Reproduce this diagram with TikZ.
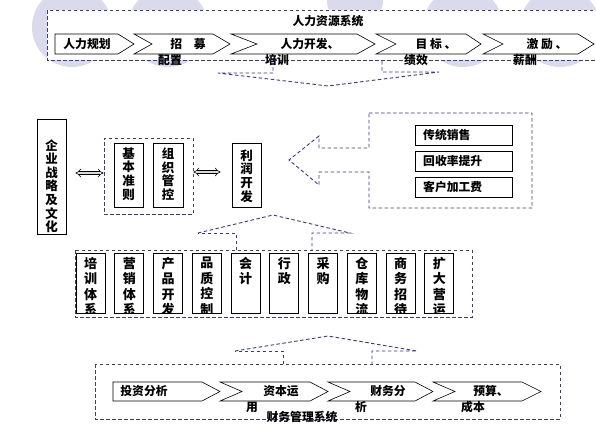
\documentclass[tikz,border=0pt]{standalone}
\usepackage{fontspec}
\setmainfont{Noto Sans CJK SC}
\usetikzlibrary{arrows.meta}
\definecolor{dblue}{RGB}{55,55,160}
\definecolor{lav}{RGB}{218,218,237}
\begin{document}
\begin{tikzpicture}[x=1pt,y=-1pt,
  bluedash/.style={draw=dblue, line width=0.9pt, dash pattern=on 3.5pt off 2.5pt},
  chev/.style={draw=black, fill=white, line width=0.6pt},
  lbl/.style={inner sep=0pt, font=\fontsize{11.8}{13}\selectfont\bfseries},
  plainbox/.style={draw=black, line width=0.7pt, fill=white, inner sep=0pt},
  vtxt/.style={inner sep=0pt, align=center, font=\fontsize{12.5}{13.8}\selectfont\bfseries},
  deptxt/.style={inner sep=0pt, align=center, anchor=north, font=\fontsize{13}{15.5}\selectfont\bfseries},
  harrow/.style={double=black!15, double distance=2.4pt, line width=0.6pt, {Implies[length=5pt]}-{Implies[length=5pt]}}
]
\useasboundingbox (0,0) rectangle (596,439);
\fill[white] (0,0) rectangle (596,439);
% background circles
\fill[lav] (72,27) circle (40);
\fill[lav] (168,27) circle (40);
\fill[lav] (355,0) circle (28);
\fill[lav] (463,27) circle (40);
\fill[lav] (560,27) circle (40);

% ---------------- HR system ----------------
\draw[bluedash, fill=white] (47,10) rectangle (600,60);
\node[lbl] (hrtitle) at (328,21) {人力资源系统};
\draw[chev] (55,34) -- (118,34) -- (134,44) -- (118,54) -- (55,54) -- cycle;
\draw[chev] (134,34) -- (213,34) -- (230,44) -- (213,54) -- (134,54) -- (152,44) -- cycle;
\draw[chev] (231,34) -- (357,34) -- (375,44) -- (357,54) -- (231,54) -- (257,44) -- cycle;
\draw[chev] (376,34) -- (466,34) -- (481,44) -- (466,54) -- (376,54) -- (396,44) -- cycle;
\draw[chev] (483,34) -- (578,34) -- (594,44) -- (578,54) -- (483,54) -- (503,44) -- cycle;
\node[lbl] (hr1) at (87,44) {人力规划};
\node[lbl] (hr2) at (188,44) {招　募};
\node[lbl] (hr2b) at (170,60) {配置};
\node[lbl] (hr3) at (310,44) {人力开发、};
\node[lbl] (hr3b) at (277,60) {培训};
\node[lbl] (hr4) at (436,44) {目 标 、};
\node[lbl] (hr4b) at (416,60) {绩效};
\node[lbl] (hr5) at (547,44) {激 励 、};
\node[lbl] (hr5b) at (525,60) {薪酬};
% down arrow under HR box
\draw[bluedash] (273,61) -- (273,73) -- (218,73) -- (328,86) -- (439,72) -- (382,72) -- (382,61);

% ---------------- middle ----------------
\node[plainbox, minimum width=29pt, minimum height=115pt] (qiye) at (51.5,176.5) {};
\node[vtxt, font=\fontsize{12.5}{13.6}\selectfont\bfseries] (qiyet) at (51.5,186) {企\\业\\战\\略\\及\\文\\化};
\node[bluedash, inner sep=0pt, minimum width=89pt, minimum height=76pt] (core) at (148.5,176) {};
\node[plainbox, minimum width=29pt, minimum height=64pt] (jbzz) at (128.5,175) {};
\node[vtxt] (jbzzt) at (128.5,174) {基\\本\\准\\则};
\node[plainbox, minimum width=30pt, minimum height=64pt] (zzgk) at (168,175) {};
\node[vtxt] (zzgkt) at (168,174) {组\\织\\管\\控};
\node[plainbox, minimum width=29pt, minimum height=64pt] (lrkf) at (246.5,175) {};
\node[vtxt] (lrkft) at (246.5,176) {利\\润\\开\\发};
\draw[harrow, shorten <=9pt] ([yshift=3.5pt]qiye.east) -- ([yshift=3.5pt]qiye.east -| core.west);
\draw[harrow, shorten >=11pt] ([yshift=4pt]core.east) -- ([yshift=4pt]core.east -| lrkf.west);

% right arrow-shaped dashed region
\draw[bluedash] (369,113) -- (532,113) -- (532,208) -- (369,208) -- (369,172) -- (319,172) -- (319,185) -- (289,160) -- (319,136) -- (319,148) -- (369,148) -- cycle;
\node[plainbox, minimum width=97pt, minimum height=20pt] (r1) at (463.5,135) {};
\node[lbl, anchor=west] (r1t) at (423,135) {传统销售};
\node[plainbox, minimum width=97pt, minimum height=20pt] (r2) at (463.5,161) {};
\node[lbl, anchor=west] (r2t) at (423,161) {回收率提升};
\node[plainbox, minimum width=97pt, minimum height=20pt] (r3) at (463.5,187) {};
\node[lbl, anchor=west] (r3t) at (423,187) {客户加工费};

% ---------------- departments ----------------
\draw[bluedash] (198,233) -- (273,215) -- (350,233) -- (312,233) -- (312,250);
\draw[bluedash] (236,250) -- (236,233) -- (198,233);
\draw[bluedash] (75,250) rectangle (472,317);
\foreach \i in {0,...,9}{
  \node[plainbox, minimum width=29pt, minimum height=60pt] (dep\i) at (90.5+38.75*\i,283) {};
}
\begin{scope}
\clip (70,250) rectangle (480,312.6);
\foreach \i/\t in {0/培\\训\\体\\系, 1/营\\销\\体\\系, 2/产\\品\\开\\发, 3/品\\质\\控\\制, 4/会\\计, 5/行\\政, 6/采\\购, 7/仓\\库\\物\\流, 8/商\\务\\招\\待, 9/扩\\大\\营\\运}{
  \node[deptxt] (dept\i) at (90.5+38.75*\i,257) {\t};
}
\end{scope}

% ---------------- finance ----------------
\draw[bluedash] (235,351) -- (328,336) -- (417,351) -- (372,351) -- (372,364);
\draw[bluedash] (283,364) -- (283,351) -- (235,351);
\draw[bluedash] (95,364) rectangle (560,419);
\draw[chev] (113,382) -- (202,382) -- (220,391.5) -- (202,401) -- (113,401) -- cycle;
\draw[chev] (220,382) -- (310,382) -- (328,391.5) -- (310,401) -- (220,401) -- (242,391.5) -- cycle;
\draw[chev] (328,382) -- (415,382) -- (433,391.5) -- (415,401) -- (328,401) -- (350,391.5) -- cycle;
\draw[chev] (433,382) -- (522,382) -- (541,391.5) -- (522,401) -- (433,401) -- (455,391.5) -- cycle;
\node[lbl] (f1) at (144,391) {投资分析};
\node[lbl] (f2) at (281,391) {资本运};
\node[lbl] (f2b) at (252,407) {用};
\node[lbl] (f3) at (388,391) {财务分};
\node[lbl] (f3b) at (361,407) {析};
\node[lbl] (f4) at (491,391) {预算、};
\node[lbl] (f4b) at (473,407) {成本};
\node[lbl] (ftitle) at (302,417) {财务管理系统};
\end{tikzpicture}
\end{document}
